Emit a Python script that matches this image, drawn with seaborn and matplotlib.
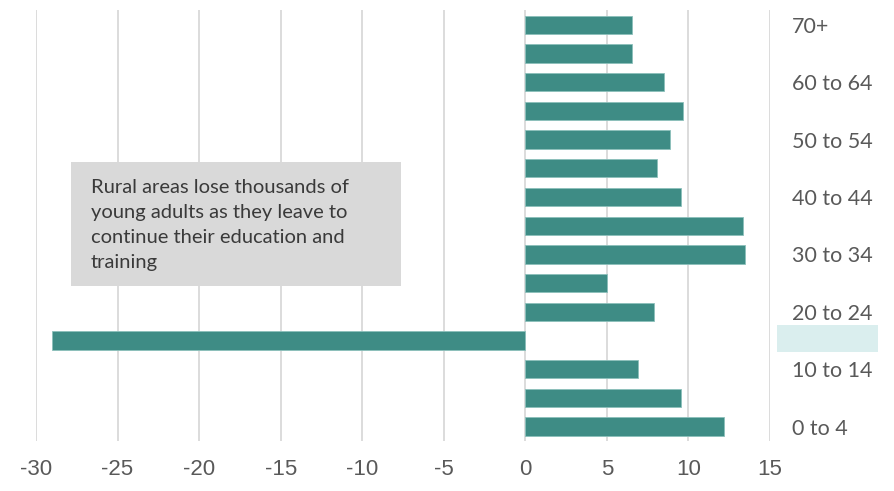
import matplotlib
matplotlib.use("Agg")
import matplotlib.pyplot as plt
from matplotlib.patches import Rectangle
from matplotlib import font_manager
import seaborn as sns
import pandas as pd

# ---- data (top to bottom as drawn) ----
age_groups = ["70+", "65 to 69", "60 to 64", "55 to 59", "50 to 54", "45 to 49",
              "40 to 44", "35 to 39", "30 to 34", "25 to 29", "20 to 24",
              "15 to 19", "10 to 14", "5 to 9", "0 to 4"]
net_migration = [6.55, 6.55, 8.5, 9.65, 8.85, 8.1, 9.55, 13.35, 13.45, 5.0,
                 7.9, -29.0, 6.9, 9.55, 12.15]
x_ticks = [-30, -25, -20, -15, -10, -5, 0, 5, 10, 15]
note_lines = ["Rural areas lose thousands of",
              "young adults as they leave to",
              "continue their education and",
              "training"]

df = pd.DataFrame({"age": age_groups, "value": net_migration})

sns.set_theme(style="white")
plt.rcParams["font.family"] = ["Lato", "DejaVu Sans"]

installed = {f.name for f in font_manager.fontManager.ttflist}
narrow = "Liberation Sans Narrow" if "Liberation Sans Narrow" in installed else None

W, H = 895, 491
fig = plt.figure(figsize=(W / 100, H / 100), dpi=100)
ax = fig.add_axes([36 / W, 1 - 441 / H, (770 - 36) / W, (441 - 10.4) / H])

bar_color = "#3e8c85"
sns.barplot(data=df, x="value", y="age", order=age_groups, orient="h",
            color=bar_color, saturation=1, width=0.64,
            edgecolor="#8cc0bb", linewidth=0.6, ax=ax, zorder=3)

ax.set_xlim(-30, 15)
ax.set_xticks(x_ticks)
if narrow:
    ax.set_xticklabels([str(t) for t in x_ticks], family=[narrow, "DejaVu Sans"],
                       fontsize=16.5, color="#595959")
else:
    ax.set_xticklabels([str(t) for t in x_ticks], family=["Liberation Sans", "DejaVu Sans"],
                       fontsize=16, color="#595959")
ax.tick_params(axis="x", length=0, pad=13)

ax.grid(axis="x", color="#d9d9d9", linewidth=1.3, zorder=0)
ax.set_axisbelow(True)
for s in ax.spines.values():
    s.set_visible(False)

# right-side category labels, every other group
ax.yaxis.tick_right()
ypos = list(range(0, len(age_groups), 2))
ax.set_yticks(ypos)
ax.set_yticklabels([age_groups[i] for i in ypos], fontsize=15.5, color="#595959")
ax.tick_params(axis="y", length=0, pad=16)
ax.set_xlabel("")
ax.set_ylabel("")

# highlight behind the missing 15 to 19 label
fig.patches.append(Rectangle((777 / W, 1 - 352 / H), 101 / W, 27 / H,
                             transform=fig.transFigure, facecolor="#daeeee",
                             edgecolor="none", zorder=0))

# annotation box
fig.patches.append(Rectangle((71 / W, 1 - 286 / H), 330 / W, 124 / H,
                             transform=fig.transFigure, facecolor="#d9d9d9",
                             edgecolor="none", zorder=2))
for i, line in enumerate(note_lines):
    fig.text(91 / W, 1 - (193 + 25 * i) / H, line, fontsize=14.5,
             color="#3a3a3a", va="baseline", ha="left", zorder=3)

fig.savefig("out.png", dpi=100)
